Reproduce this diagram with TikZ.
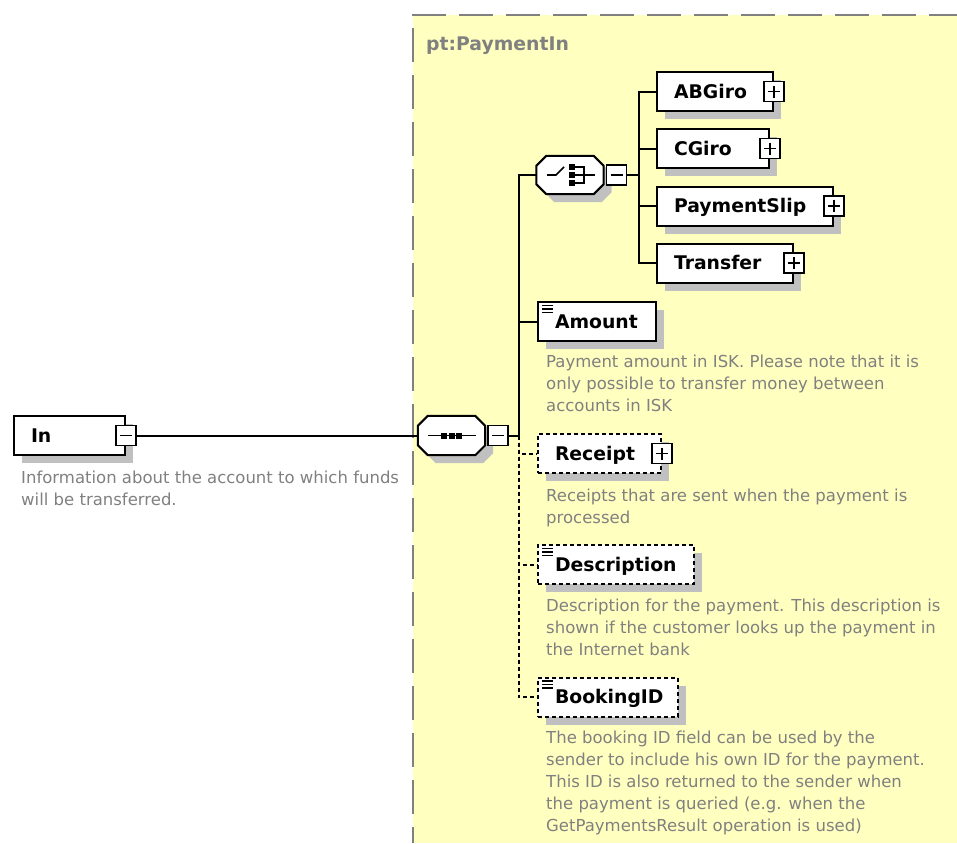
\documentclass[tikz,border=0pt]{standalone}
\usepackage{fontspec}
\setmainfont{DejaVu Sans}
\usepackage{tikz}
\usetikzlibrary{positioning,shadows}
\definecolor{xsyellow}{RGB}{255,255,192}
\definecolor{xsgrey}{RGB}{128,128,128}
\definecolor{xsshadow}{RGB}{192,192,192}
\newcommand\elemfont{\fontsize{18.8}{22}\selectfont\bfseries}
\newcommand\notefont{\fontsize{16.5}{22}\selectfont}
\newcommand\octagonat[1]{%
  \draw[octline] ([xshift=10pt]#1.north west) -- ([xshift=-10pt]#1.north east)
    -- ([yshift=-10pt]#1.north east) -- ([yshift=10pt]#1.south east)
    -- ([xshift=-10pt]#1.south east) -- ([xshift=10pt]#1.south west)
    -- ([yshift=10pt]#1.south west) -- ([yshift=-10pt]#1.north west) -- cycle;}
\tikzset{
  shadowed/.style={drop shadow={shadow xshift=8pt,shadow yshift=-8pt,
                   opacity=1,fill=xsshadow}},
  elem/.style={draw,fill=white,line width=2pt,shadowed,anchor=west,
               minimum height=39pt,inner xsep=17pt,inner ysep=0pt,
               text width=#1,align=left,font=\elemfont,
               text height=13.5pt,text depth=0pt},
  optelem/.style={elem=#1,dash pattern=on 4pt off 3pt},
  simpletype/.style={path picture={\foreach \d in {3.5,7,10.5}
      \draw[solid,line width=1.1pt]
        ([xshift=4pt,yshift=-\d pt]path picture bounding box.north west)
        -- ++(11pt,0pt);}},
  pmbox/.style={draw,fill=white,solid,line width=1.6pt,minimum size=20pt,
                inner sep=0pt},
  minusbox/.style={pmbox,path picture={
      \draw[line width=1.3pt] ([xshift=4pt]path picture bounding box.west)
        -- ([xshift=-4pt]path picture bounding box.east);}},
  plusbox/.style={pmbox,path picture={
      \draw[line width=1.3pt] ([xshift=4pt]path picture bounding box.west)
        -- ([xshift=-4pt]path picture bounding box.east)
        ([yshift=-4pt]path picture bounding box.north)
        -- ([yshift=4pt]path picture bounding box.south);}},
  comp/.style={minimum width=67pt,minimum height=39pt,inner sep=0pt},
  octline/.style={draw,fill=white,line width=2pt,shadowed},
  note/.style={anchor=north west,align=left,inner sep=0pt,text=xsgrey,
               font=\notefont},
  conn/.style={draw,line width=2pt},
  optconn/.style={conn,dash pattern=on 4pt off 3pt},
}
\begin{document}
\begin{tikzpicture}[x=1pt,y=-1pt]
  \useasboundingbox (0,0) rectangle (957,843);
  % complex type area
  \fill[xsyellow] (413,15) rectangle (957,843);
  \draw[xsgrey,line width=2pt,dash pattern=on 34pt off 13pt] (412,15) -- (957,15);
  \draw[xsgrey,line width=2pt,dash pattern=on 34pt off 13pt,dash phase=34pt]
    (413,15) -- (413,843);
  \node[anchor=base west,inner sep=0pt,text=xsgrey,font=\elemfont] (tname)
    at (426,50) {pt:PaymentIn};

  % root element
  \node[elem=77pt] (in) at (13,435.5) {In};
  \node[minusbox] (inpm) at (in.east) {};
  \node[note] (innote) at (21,471)
    {Information about the account to which funds\\will be transferred.};

  % sequence
  \node[comp] (seq) at (451.5,435.5) {};
  \octagonat{seq}
  \node[minusbox,right=2pt of seq] (seqpm) {};
  \draw[line width=1.6pt] ([xshift=-24pt]seq.center) -- ([xshift=24pt]seq.center);
  \foreach \dx in {-7.5,0,7.5}
    \fill ([xshift=\dx pt]seq.center) +(-3,-3) rectangle +(3,3);

  % choice
  \node[comp,minimum height=38pt] (choice) at (570,175) {};
  \octagonat{choice}
  \node[minusbox,right=2pt of choice] (choicepm) {};
  \begin{scope}[shift={(choice.center)},line width=1.6pt]
    \draw (-23,0) -- (-14,0) -- (-6,-8);
    \foreach \dy in {-8,0,8}
      \fill (1.5,\dy) +(-3,-3) rectangle +(3,3);
    \draw (4,-8) -- (14,-8) -- (14,8) -- (4,8) (4,0) -- (25,0);
  \end{scope}

  % elements
  \node[elem=82pt] (abgiro) at (656,91.5) {ABGiro};
  \node[elem=78pt] (cgiro) at (656,148.5) {CGiro};
  \node[elem=142pt] (slip) at (656,206) {PaymentSlip};
  \node[elem=102pt] (transfer) at (656,263) {Transfer};
  \node[elem=84pt,simpletype] (amount) at (537,321.5) {Amount};
  \node[optelem=89pt] (receipt) at (537,453.5) {Receipt};
  \node[optelem=122pt,simpletype] (descr) at (537,564.5) {Description};
  \node[optelem=106pt,simpletype] (booking) at (537,697) {BookingID};
  \foreach \n in {abgiro,cgiro,slip,transfer,receipt}
    \node[plusbox] (\n pm) at (\n.east) {};

  % annotations
  \node[note] (amountnote) at (546,355)
    {Payment amount in ISK. Please note that it is\\only possible to transfer
     money between\\accounts in ISK};
  \node[note] (receiptnote) at (546,489)
    {Receipts that are sent when the payment is\\processed};
  \node[note] (descrnote) at (546,599)
    {Description for the payment. This description is\\shown if the customer
     looks up the payment in\\the Internet bank};
  \node[note] (bookingnote) at (546,731)
    {The booking ID field can be used by the\\sender to include his own ID for
     the payment.\\This ID is also returned to the sender when\\the payment is
     queried (e.g. when the\\GetPaymentsResult operation is used)};

  % connectors
  \draw[conn] (inpm.east) -- (seq.west);
  \draw[conn] (seqpm.east) -- ++(10,0) |- (choice.west);
  \draw[conn] (seqpm.east) -- ++(10,0) |- (amount.west);
  \foreach \n in {receipt,descr,booking}
    \draw[optconn] ([xshift=10pt]seqpm.east) |- (\n.west);
  \foreach \n in {abgiro,cgiro,slip,transfer}
    \draw[conn] (choicepm.east) -- ++(12,0) |- (\n.west);
\end{tikzpicture}
\end{document}
